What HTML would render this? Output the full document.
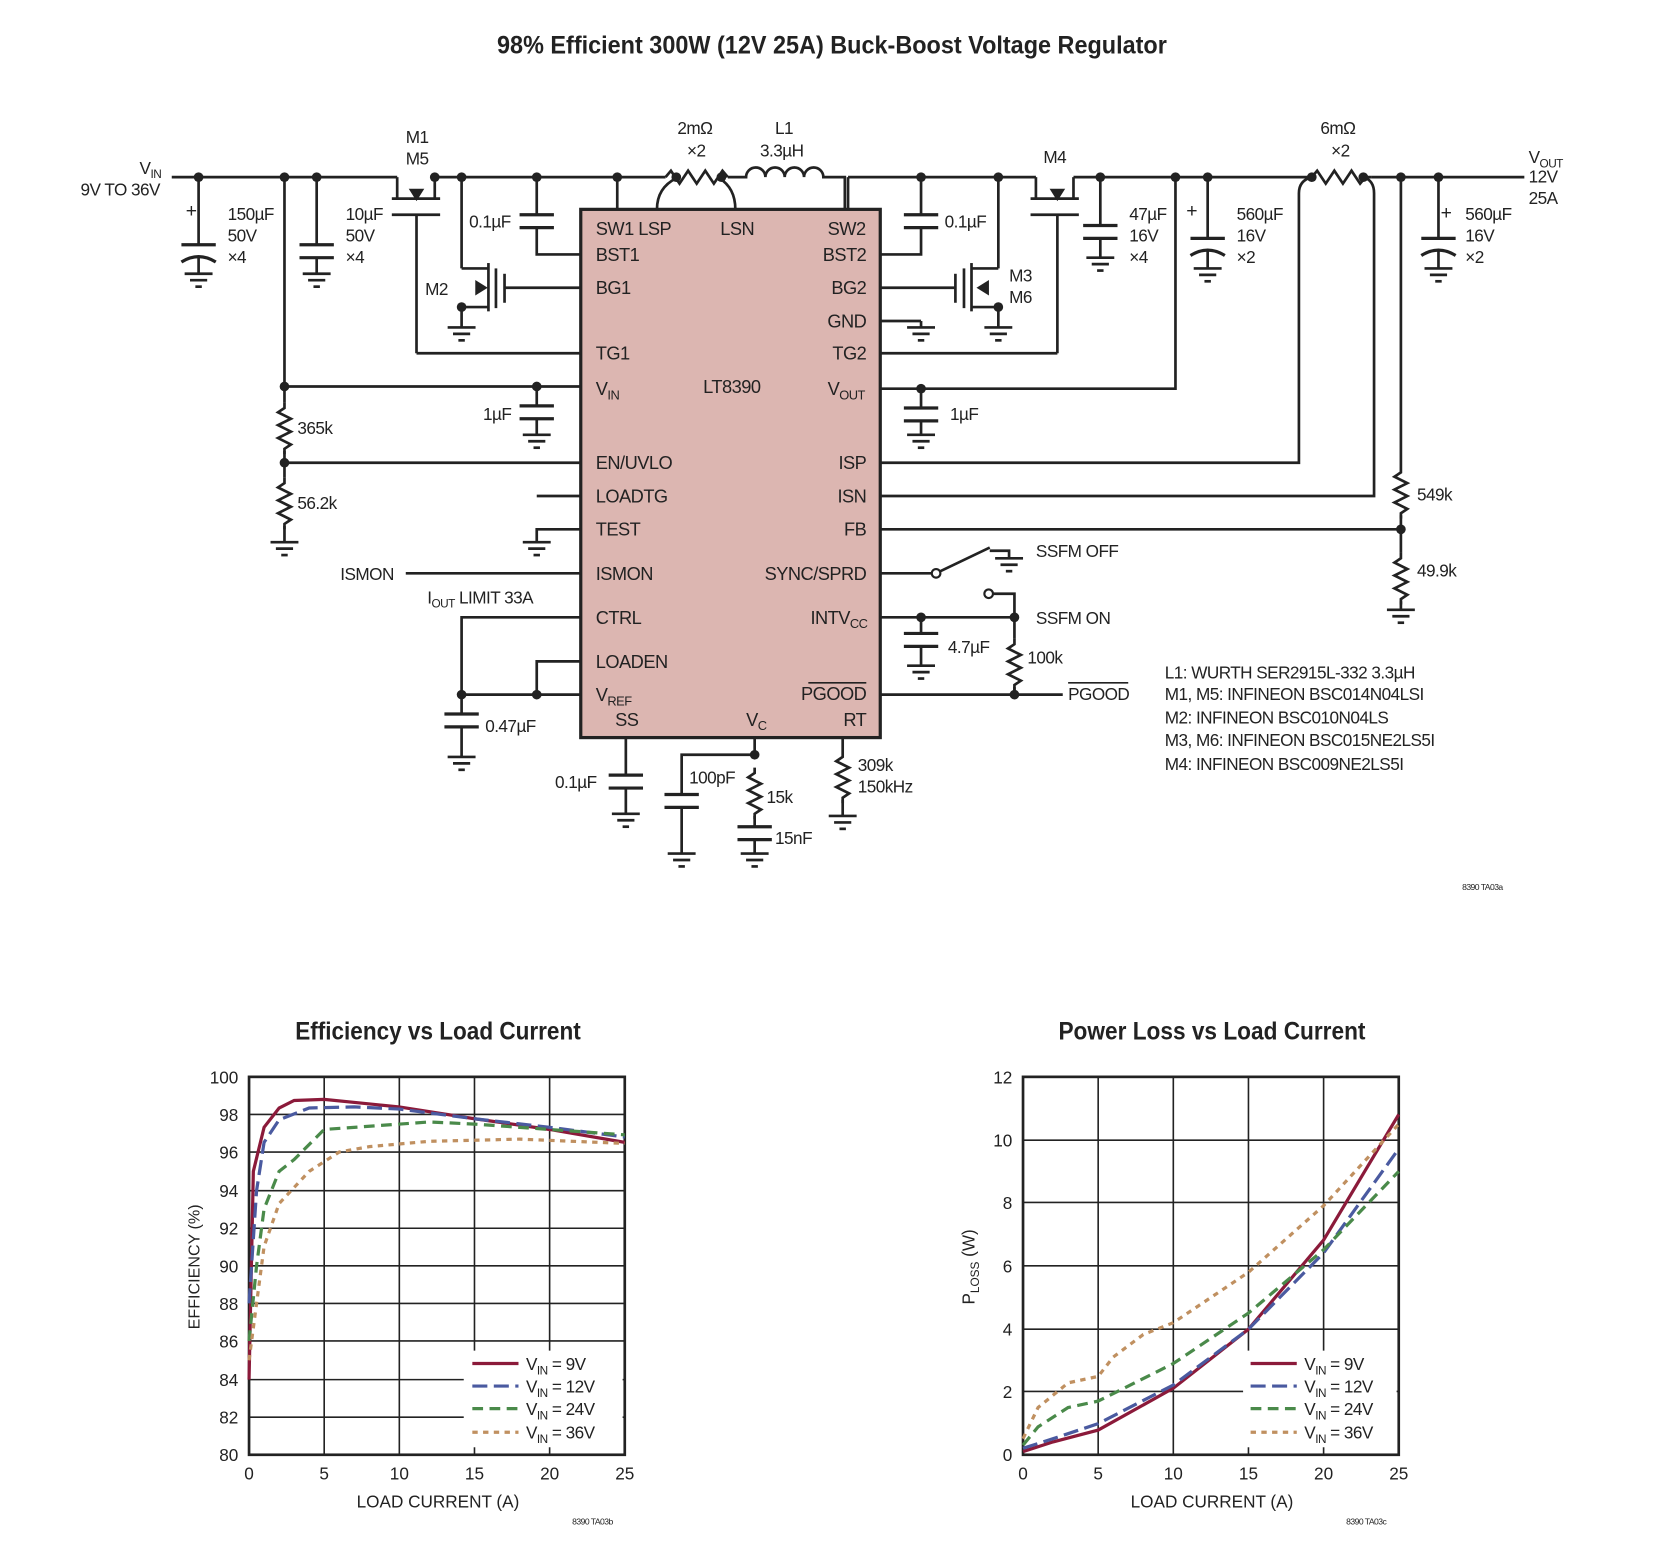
<!DOCTYPE html>
<html><head><meta charset="utf-8"><style>
html,body{margin:0;padding:0;background:#fff}
svg{display:block}
text{font-family:"Liberation Sans Narrow","Liberation Sans",sans-serif;fill:#222}
</style></head><body>
<svg width="1680" height="1560" viewBox="0 0 1565 1453" preserveAspectRatio="none" xmlns="http://www.w3.org/2000/svg">
<defs>
<g id="gnd" stroke="#222" stroke-width="2.5"><line x1="-13" y1="0" x2="13" y2="0"/><line x1="-8" y1="6" x2="8" y2="6"/><line x1="-3" y1="12" x2="3" y2="12"/></g>
<g id="capv" stroke="#222" stroke-width="3"><line x1="-16" y1="0" x2="16" y2="0"/><line x1="-16" y1="12" x2="16" y2="12"/></g>
<g id="pcap" stroke="#222" stroke-width="3" fill="none"><line x1="-16" y1="0" x2="16" y2="0"/><path d="M-16 16 Q0 6 16 16"/></g>
<path id="resv" d="M0 0 l0 5 l-6 4 l12 6 l-12 6 l12 6 l-12 6 l12 6 l-6 4 l0 5" fill="none" stroke="#222" stroke-width="2.5"/>
<circle id="dot" r="4.5" fill="#222"/>
</defs>
<text x="463" y="50" textLength="624" lengthAdjust="spacingAndGlyphs" font-size="23" font-weight="bold">98% Efficient 300W (12V 25A) Buck-Boost Voltage Regulator</text>

<!-- IC -->
<rect x="541" y="195" width="279" height="492" fill="#dcb6b1" stroke="#222" stroke-width="3"/>
<g font-size="17" letter-spacing="-0.5">
<text x="555" y="219">SW1 LSP</text><text x="671" y="219">LSN</text><text x="771" y="219">SW2</text>
<text x="555" y="243">BST1</text><text x="555" y="274">BG1</text><text x="555" y="335">TG1</text>
<text x="555" y="368">V<tspan font-size="12" dy="4">IN</tspan></text>
<text x="555" y="437">EN/UVLO</text><text x="555" y="468">LOADTG</text><text x="555" y="499">TEST</text>
<text x="555" y="540">ISMON</text><text x="555" y="581">CTRL</text><text x="555" y="622">LOADEN</text>
<text x="555" y="653">V<tspan font-size="12" dy="4">REF</tspan></text><text x="573" y="676">SS</text>
<text x="695" y="676">V<tspan font-size="12" dy="4">C</tspan></text>
<text x="807" y="243" text-anchor="end">BST2</text><text x="807" y="274" text-anchor="end">BG2</text>
<text x="807" y="305" text-anchor="end">GND</text><text x="807" y="335" text-anchor="end">TG2</text>
<text x="771" y="368">V<tspan font-size="12" dy="4">OUT</tspan></text>
<text x="807" y="437" text-anchor="end">ISP</text><text x="807" y="468" text-anchor="end">ISN</text><text x="807" y="499" text-anchor="end">FB</text>
<text x="807" y="540" text-anchor="end">SYNC/SPRD</text>
<text x="755" y="581">INTV<tspan font-size="12" dy="4">CC</tspan></text>
<text x="807" y="652" text-anchor="end">PGOOD</text><line x1="753" y1="636" x2="807" y2="636" stroke="#222" stroke-width="1.5"/>
<text x="807" y="676" text-anchor="end">RT</text>
<text x="655" y="366">LT8390</text>
</g>

<g stroke="#222" stroke-width="2.5" fill="none">
<line x1="160" y1="165" x2="370" y2="165"/><line x1="405" y1="165" x2="620" y2="165"/>
<line x1="855" y1="165" x2="965" y2="165"/><line x1="1000" y1="165" x2="1222" y2="165"/><line x1="1278" y1="165" x2="1420" y2="165"/>
<path d="M620 165 l5 -6 l8 12 l8 -12 l8 12 l8 -12 l8 12 l8 -12 l5 6"/>
<path d="M678 165 l17 0 a9 9 0 0 1 18 0 a9 9 0 0 1 18 0 a9 9 0 0 1 18 0 a9 9 0 0 1 18 0 l20 0 l0 30"/>
<line x1="855" y1="165" x2="790" y2="165"/>
<path d="M1222 165 l5 -6 l8 12 l8 -12 l8 12 l8 -12 l8 12 l5 -6 l6 0"/>
<path d="M612 195 Q612 175 630 166"/><path d="M685 195 Q685 175 670 166"/>
<line x1="575" y1="165" x2="575" y2="195"/>
<line x1="185" y1="165" x2="185" y2="228"/><line x1="185" y1="240" x2="185" y2="255"/>
<line x1="295" y1="165" x2="295" y2="228"/><line x1="295" y1="240" x2="295" y2="255"/>
<line x1="265" y1="165" x2="265" y2="375"/><line x1="265" y1="420" x2="265" y2="445"/><line x1="265" y1="490" x2="265" y2="505"/>
<line x1="265" y1="360" x2="541" y2="360"/><line x1="265" y1="431" x2="541" y2="431"/>
<line x1="500" y1="360" x2="500" y2="378"/><line x1="500" y1="390" x2="500" y2="405"/>
<line x1="370" y1="165" x2="370" y2="185"/><line x1="405" y1="165" x2="405" y2="185"/>
<line x1="365" y1="185" x2="410" y2="185"/><line x1="365" y1="200" x2="410" y2="200"/>
<line x1="388" y1="200" x2="388" y2="329"/><line x1="388" y1="329" x2="541" y2="329"/>
<path d="M388 185 l-5 -8 l10 0 z" fill="#222"/>
<line x1="430" y1="165" x2="430" y2="250"/><line x1="430" y1="250" x2="455" y2="250"/>
<line x1="455" y1="245" x2="455" y2="290"/><line x1="462" y1="250" x2="462" y2="287"/>
<line x1="430" y1="286" x2="455" y2="286"/><line x1="430" y1="286" x2="430" y2="305"/>
<line x1="470" y1="268" x2="541" y2="268"/><line x1="470" y1="255" x2="470" y2="282"/>
<path d="M452 268 l-8 -5 l0 10 z" fill="#222"/>
<line x1="500" y1="165" x2="500" y2="200"/><path d="M500 212 L500 237 L541 237"/>
<line x1="858" y1="165" x2="858" y2="200"/><path d="M858 212 L858 237 L820 237"/>
<line x1="930" y1="165" x2="930" y2="250"/><line x1="930" y1="250" x2="905" y2="250"/>
<line x1="905" y1="245" x2="905" y2="290"/><line x1="898" y1="250" x2="898" y2="287"/>
<line x1="930" y1="286" x2="905" y2="286"/><line x1="930" y1="286" x2="930" y2="305"/>
<line x1="820" y1="268" x2="890" y2="268"/><line x1="890" y1="255" x2="890" y2="282"/>
<path d="M912 268 l8 -5 l0 10 z" fill="#222"/>
<line x1="820" y1="299" x2="858" y2="299"/><line x1="858" y1="299" x2="858" y2="305"/>
<line x1="965" y1="165" x2="965" y2="185"/><line x1="1000" y1="165" x2="1000" y2="185"/>
<line x1="960" y1="185" x2="1005" y2="185"/><line x1="960" y1="200" x2="1005" y2="200"/>
<line x1="985" y1="200" x2="985" y2="329"/><line x1="985" y1="329" x2="820" y2="329"/>
<path d="M985 185 l-5 -8 l10 0 z" fill="#222"/>
<line x1="790" y1="165" x2="790" y2="195"/>
<line x1="1025" y1="165" x2="1025" y2="210"/><line x1="1025" y1="222" x2="1025" y2="240"/>
<line x1="1125" y1="165" x2="1125" y2="222"/><line x1="1125" y1="234" x2="1125" y2="250"/>
<line x1="1340" y1="165" x2="1340" y2="222"/><line x1="1340" y1="234" x2="1340" y2="250"/>
<path d="M820 362 L1095 362 L1095 165"/>
<line x1="858" y1="362" x2="858" y2="380"/><line x1="858" y1="392" x2="858" y2="405"/>
<path d="M820 431 L1210 431 L1210 180 Q1210 168 1222 165"/>
<path d="M820 462 L1280 462 L1280 180 Q1280 168 1270 165"/>
<line x1="1305" y1="165" x2="1305" y2="435"/><line x1="1305" y1="480" x2="1305" y2="515"/><line x1="1305" y1="560" x2="1305" y2="568"/>
<line x1="820" y1="493" x2="1305" y2="493"/>
<line x1="500" y1="462" x2="541" y2="462"/>
<path d="M541 493 L500 493 L500 505"/>
<line x1="378" y1="534" x2="541" y2="534"/>
<path d="M541 575 L430 575 L430 665"/><line x1="430" y1="677" x2="430" y2="705"/>
<path d="M541 616 L500 616 L500 647"/><line x1="430" y1="647" x2="541" y2="647"/>
<line x1="583" y1="687" x2="583" y2="722"/><line x1="583" y1="734" x2="583" y2="758"/>
<line x1="703" y1="687" x2="703" y2="705"/><path d="M703 703 L635 703 L635 740"/><line x1="635" y1="752" x2="635" y2="795"/>
<line x1="703" y1="760" x2="703" y2="770"/><line x1="703" y1="782" x2="703" y2="795"/>
<line x1="785" y1="687" x2="785" y2="700"/><line x1="785" y1="745" x2="785" y2="760"/>
<line x1="820" y1="534" x2="868" y2="534"/><line x1="876" y1="532" x2="922" y2="510"/>
<path d="M922 513 L940 513 L940 520"/>
<path d="M925 553 L945 553 L945 595"/><line x1="945" y1="640" x2="945" y2="647"/>
<line x1="820" y1="575" x2="945" y2="575"/>
<line x1="858" y1="575" x2="858" y2="590"/><line x1="858" y1="602" x2="858" y2="620"/>
<line x1="820" y1="647" x2="990" y2="647"/>
</g>
<circle cx="872" cy="534" r="4" fill="#fff" stroke="#222" stroke-width="2"/>
<circle cx="921" cy="553" r="4" fill="#fff" stroke="#222" stroke-width="2"/>

<use href="#pcap" x="185" y="228"/><use href="#capv" x="295" y="228"/>
<use href="#capv" x="500" y="378"/><use href="#capv" x="500" y="200"/><use href="#capv" x="858" y="200"/>
<use href="#capv" x="1025" y="210"/><use href="#pcap" x="1125" y="222"/><use href="#pcap" x="1340" y="222"/>
<use href="#capv" x="858" y="380"/><use href="#capv" x="430" y="665"/><use href="#capv" x="583" y="722"/>
<use href="#capv" x="635" y="740"/><use href="#capv" x="703" y="770"/><use href="#capv" x="858" y="590"/>
<use href="#resv" x="265" y="375"/><use href="#resv" x="265" y="445"/>
<use href="#resv" x="1305" y="435"/><use href="#resv" x="1305" y="515"/>
<use href="#resv" x="945" y="595"/><use href="#resv" x="703" y="715"/><use href="#resv" x="785" y="700"/>
<use href="#gnd" x="185" y="255"/><use href="#gnd" x="295" y="255"/><use href="#gnd" x="265" y="505"/>
<use href="#gnd" x="430" y="305"/><use href="#gnd" x="500" y="405"/><use href="#gnd" x="500" y="505"/>
<use href="#gnd" x="858" y="305"/><use href="#gnd" x="930" y="305"/><use href="#gnd" x="1025" y="240"/>
<use href="#gnd" x="1125" y="250"/><use href="#gnd" x="1340" y="250"/><use href="#gnd" x="858" y="405"/>
<use href="#gnd" x="1305" y="568"/><use href="#gnd" x="940" y="520"/><use href="#gnd" x="858" y="620"/>
<use href="#gnd" x="430" y="705"/><use href="#gnd" x="583" y="758"/><use href="#gnd" x="635" y="795"/>
<use href="#gnd" x="703" y="795"/><use href="#gnd" x="785" y="760"/>
<g fill="#222">
<use href="#dot" x="185" y="165"/><use href="#dot" x="265" y="165"/><use href="#dot" x="295" y="165"/>
<use href="#dot" x="405" y="165"/><use href="#dot" x="430" y="165"/><use href="#dot" x="500" y="165"/><use href="#dot" x="575" y="165"/>
<use href="#dot" x="630" y="165"/><use href="#dot" x="672" y="165"/>
<use href="#dot" x="858" y="165"/><use href="#dot" x="930" y="165"/><use href="#dot" x="1025" y="165"/>
<use href="#dot" x="1095" y="165"/><use href="#dot" x="1125" y="165"/><use href="#dot" x="1222" y="165"/><use href="#dot" x="1270" y="165"/>
<use href="#dot" x="1305" y="165"/><use href="#dot" x="1340" y="165"/>
<use href="#dot" x="265" y="360"/><use href="#dot" x="500" y="360"/><use href="#dot" x="265" y="431"/>
<use href="#dot" x="430" y="286"/><use href="#dot" x="930" y="286"/>
<use href="#dot" x="858" y="362"/><use href="#dot" x="1305" y="493"/>
<use href="#dot" x="430" y="647"/><use href="#dot" x="500" y="647"/>
<use href="#dot" x="703" y="703"/><use href="#dot" x="858" y="575"/><use href="#dot" x="945" y="575"/><use href="#dot" x="945" y="647"/>
</g>
<g font-size="16" letter-spacing="-0.5">
<text x="130" y="162">V<tspan font-size="11" dy="4">IN</tspan></text><text x="75" y="182">9V TO 36V</text>
<text x="173" y="202" font-size="18">+</text>
<text x="212" y="205">150µF</text><text x="212" y="225">50V</text><text x="212" y="245">×4</text>
<text x="322" y="205">10µF</text><text x="322" y="225">50V</text><text x="322" y="245">×4</text>
<text x="378" y="133">M1</text><text x="378" y="153">M5</text>
<text x="396" y="275">M2</text><text x="437" y="212">0.1µF</text>
<text x="631" y="125">2mΩ</text><text x="640" y="146">×2</text>
<text x="722" y="125">L1</text><text x="708" y="146">3.3µH</text>
<text x="880" y="212">0.1µF</text><text x="972" y="152">M4</text>
<text x="940" y="262">M3</text><text x="940" y="282">M6</text>
<text x="1052" y="205">47µF</text><text x="1052" y="225">16V</text><text x="1052" y="245">×4</text>
<text x="1105" y="202" font-size="18">+</text>
<text x="1152" y="205">560µF</text><text x="1152" y="225">16V</text><text x="1152" y="245">×2</text>
<text x="1230" y="125">6mΩ</text><text x="1240" y="146">×2</text>
<text x="1424" y="152">V<tspan font-size="11" dy="4">OUT</tspan></text><text x="1424" y="170">12V</text><text x="1424" y="190">25A</text>
<text x="1342" y="204" font-size="18">+</text>
<text x="1365" y="205">560µF</text><text x="1365" y="225">16V</text><text x="1365" y="245">×2</text>
<text x="277" y="404">365k</text><text x="277" y="474">56.2k</text><text x="450" y="391">1µF</text>
<text x="885" y="391">1µF</text><text x="1320" y="466">549k</text><text x="1320" y="537">49.9k</text>
<text x="317" y="540">ISMON</text>
<text x="398" y="562">I<tspan font-size="11" dy="4">OUT</tspan><tspan dy="-4"> LIMIT 33A</tspan></text>
<text x="965" y="519">SSFM OFF</text><text x="965" y="581">SSFM ON</text>
<text x="883" y="608">4.7µF</text><text x="957" y="618">100k</text>
<text x="995" y="652">PGOOD</text><line x1="995" y1="636" x2="1051" y2="636" stroke="#222" stroke-width="1.5"/>
<text x="452" y="682">0.47µF</text><text x="517" y="734">0.1µF</text><text x="642" y="730">100pF</text>
<text x="714" y="748">15k</text><text x="722" y="786">15nF</text>
<text x="799" y="718">309k</text><text x="799" y="738">150kHz</text>
<text x="1085" y="632">L1: WURTH SER2915L-332 3.3µH</text>
<text x="1085" y="652">M1, M5: INFINEON BSC014N04LSI</text>
<text x="1085" y="674">M2: INFINEON BSC010N04LS</text>
<text x="1085" y="695">M3, M6: INFINEON BSC015NE2LS5I</text>
<text x="1085" y="717">M4: INFINEON BSC009NE2LS5I</text>
<text x="1362" y="829" font-size="8">8390 TA03a</text>
</g>

<text x="408" y="968" text-anchor="middle" font-size="23" font-weight="bold" textLength="266" lengthAdjust="spacingAndGlyphs">Efficiency vs Load Current</text>
<g stroke="#222" stroke-width="1.5">
<line x1="302" y1="1003" x2="302" y2="1355"/><line x1="372" y1="1003" x2="372" y2="1355"/><line x1="442" y1="1003" x2="442" y2="1355"/><line x1="512" y1="1003" x2="512" y2="1355"/>
<line x1="232" y1="1038" x2="582" y2="1038"/><line x1="232" y1="1073" x2="582" y2="1073"/><line x1="232" y1="1109" x2="582" y2="1109"/><line x1="232" y1="1144" x2="582" y2="1144"/><line x1="232" y1="1179" x2="582" y2="1179"/><line x1="232" y1="1214" x2="582" y2="1214"/><line x1="232" y1="1249" x2="582" y2="1249"/><line x1="232" y1="1285" x2="582" y2="1285"/><line x1="232" y1="1320" x2="582" y2="1320"/>
</g>
<rect x="232" y="1003" width="350" height="352" fill="none" stroke="#222" stroke-width="2.5"/>
<g fill="none" stroke-width="3">
<polyline stroke="#8b1a3a" points="232,1285 236,1091 246,1050 260,1032 274,1025 302,1024 372,1031 442,1042 512,1052 582,1064"/>
<polyline stroke="#4a5aa0" stroke-dasharray="14,6" points="232,1214 239,1109 246,1064 260,1043 288,1032 330,1031 372,1033 442,1042 512,1050 582,1059"/>
<polyline stroke="#4a8a4a" stroke-dasharray="10,6" points="232,1249 239,1179 246,1126 260,1091 274,1080 302,1052 344,1049 400,1045 442,1047 512,1052 582,1057"/>
<polyline stroke="#c09060" stroke-dasharray="5,5" points="232,1267 239,1214 246,1161 260,1121 288,1091 316,1073 344,1068 400,1063 484,1061 582,1065"/>
</g>
<rect x="432" y="1258" width="148" height="90" fill="#fff"/>
<g font-size="16" text-anchor="end">
<text x="222" y="1009">100</text><text x="222" y="1044">98</text><text x="222" y="1079">96</text><text x="222" y="1115">94</text><text x="222" y="1150">92</text><text x="222" y="1185">90</text><text x="222" y="1220">88</text><text x="222" y="1255">86</text><text x="222" y="1291">84</text><text x="222" y="1326">82</text><text x="222" y="1361">80</text>
</g>
<g font-size="16" text-anchor="middle">
<text x="232" y="1378">0</text><text x="302" y="1378">5</text><text x="372" y="1378">10</text><text x="442" y="1378">15</text><text x="512" y="1378">20</text><text x="582" y="1378">25</text>
<text x="408" y="1404">LOAD CURRENT (A)</text>
<text transform="translate(186,1180) rotate(-90)" font-size="15">EFFICIENCY (%)</text>
</g>
<g stroke-width="3">
<line x1="440" y1="1270" x2="483" y2="1270" stroke="#8b1a3a"/>
<line x1="440" y1="1291" x2="483" y2="1291" stroke="#4a5aa0" stroke-dasharray="14,6"/>
<line x1="440" y1="1312" x2="483" y2="1312" stroke="#4a8a4a" stroke-dasharray="10,6"/>
<line x1="440" y1="1334" x2="483" y2="1334" stroke="#c09060" stroke-dasharray="5,5"/>
</g>
<g font-size="16" letter-spacing="-0.5">
<text x="490" y="1276">V<tspan font-size="11" dy="4">IN</tspan><tspan dy="-4"> = 9V</tspan></text>
<text x="490" y="1297">V<tspan font-size="11" dy="4">IN</tspan><tspan dy="-4"> = 12V</tspan></text>
<text x="490" y="1318">V<tspan font-size="11" dy="4">IN</tspan><tspan dy="-4"> = 24V</tspan></text>
<text x="490" y="1340">V<tspan font-size="11" dy="4">IN</tspan><tspan dy="-4"> = 36V</tspan></text>
<text x="533" y="1420" font-size="8">8390 TA03b</text>
</g>

<text x="1129" y="968" text-anchor="middle" font-size="23" font-weight="bold" textLength="286" lengthAdjust="spacingAndGlyphs">Power Loss vs Load Current</text>
<g stroke="#222" stroke-width="1.5">
<line x1="1023" y1="1003" x2="1023" y2="1355"/><line x1="1093" y1="1003" x2="1093" y2="1355"/><line x1="1163" y1="1003" x2="1163" y2="1355"/><line x1="1233" y1="1003" x2="1233" y2="1355"/>
<line x1="953" y1="1062" x2="1303" y2="1062"/><line x1="953" y1="1120" x2="1303" y2="1120"/><line x1="953" y1="1179" x2="1303" y2="1179"/><line x1="953" y1="1238" x2="1303" y2="1238"/><line x1="953" y1="1296" x2="1303" y2="1296"/>
</g>
<rect x="953" y="1003" width="350" height="352" fill="none" stroke="#222" stroke-width="2.5"/>
<g fill="none" stroke-width="3">
<polyline stroke="#8b1a3a" points="953,1352 981,1343 1023,1332 1093,1293 1163,1238 1233,1155 1303,1038"/>
<polyline stroke="#4a5aa0" stroke-dasharray="14,6" points="953,1349 981,1340 1023,1326 1093,1290 1163,1238 1233,1167 1303,1070"/>
<polyline stroke="#4a8a4a" stroke-dasharray="10,6" points="953,1346 967,1329 995,1311 1023,1305 1093,1270 1163,1223 1233,1164 1303,1091"/>
<polyline stroke="#c09060" stroke-dasharray="5,5" points="953,1340 967,1311 995,1288 1023,1282 1037,1264 1065,1243 1093,1232 1163,1185 1233,1123 1303,1047"/>
</g>
<rect x="1158" y="1258" width="143" height="90" fill="#fff"/>
<g font-size="16" text-anchor="end">
<text x="943" y="1009">12</text><text x="943" y="1068">10</text><text x="943" y="1126">8</text><text x="943" y="1185">6</text><text x="943" y="1244">4</text><text x="943" y="1302">2</text><text x="943" y="1361">0</text>
</g>
<g font-size="16" text-anchor="middle">
<text x="953" y="1378">0</text><text x="1023" y="1378">5</text><text x="1093" y="1378">10</text><text x="1163" y="1378">15</text><text x="1233" y="1378">20</text><text x="1303" y="1378">25</text>
<text x="1129" y="1404">LOAD CURRENT (A)</text>
<text transform="translate(908,1180) rotate(-90)" font-size="16">P<tspan font-size="11" dy="4">LOSS</tspan><tspan dy="-4"> (W)</tspan></text>
</g>
<g stroke-width="3">
<line x1="1165" y1="1270" x2="1208" y2="1270" stroke="#8b1a3a"/>
<line x1="1165" y1="1291" x2="1208" y2="1291" stroke="#4a5aa0" stroke-dasharray="14,6"/>
<line x1="1165" y1="1312" x2="1208" y2="1312" stroke="#4a8a4a" stroke-dasharray="10,6"/>
<line x1="1165" y1="1334" x2="1208" y2="1334" stroke="#c09060" stroke-dasharray="5,5"/>
</g>
<g font-size="16" letter-spacing="-0.5">
<text x="1215" y="1276">V<tspan font-size="11" dy="4">IN</tspan><tspan dy="-4"> = 9V</tspan></text>
<text x="1215" y="1297">V<tspan font-size="11" dy="4">IN</tspan><tspan dy="-4"> = 12V</tspan></text>
<text x="1215" y="1318">V<tspan font-size="11" dy="4">IN</tspan><tspan dy="-4"> = 24V</tspan></text>
<text x="1215" y="1340">V<tspan font-size="11" dy="4">IN</tspan><tspan dy="-4"> = 36V</tspan></text>
<text x="1254" y="1420" font-size="8">8390 TA03c</text>
</g>
</svg>
</body></html>
